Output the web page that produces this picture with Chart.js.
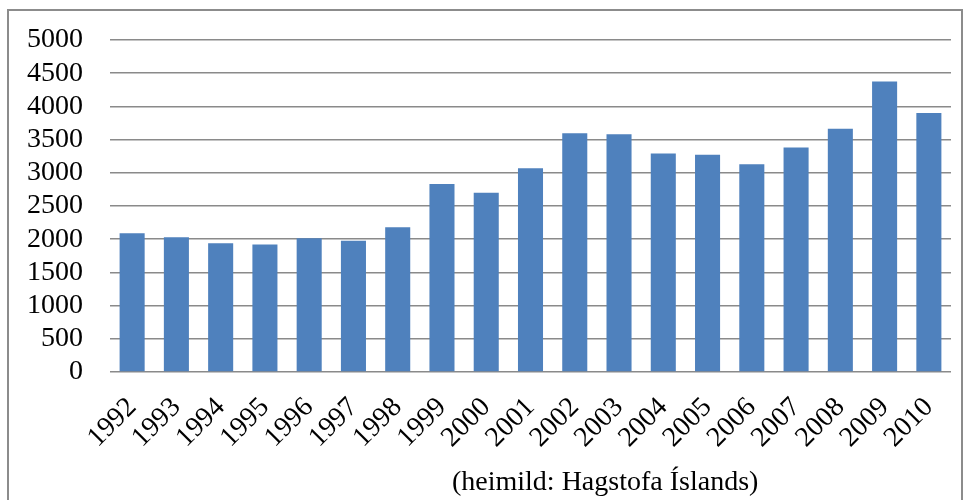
<!DOCTYPE html>
<html>
<head>
<meta charset="utf-8">
<script src="https://cdn.jsdelivr.net/npm/chart.js@4"></script>
<style>
  html, body { margin: 0; padding: 0; background: #fff; }
  #wrap { position: relative; width: 967px; height: 500px; overflow: hidden; }
  #frame { position: absolute; left: 7px; top: 9px; width: 956px; height: 500px; border: 2px solid #8c8c8c; box-sizing: border-box; }
  #c { position: absolute; left: 0; top: 0; }
  #caption { position: absolute; left: 452px; top: 465px; font-family: "Liberation Serif", serif; font-size: 28px; color: #000; white-space: nowrap; }
</style>
</head>
<body>
<div id="wrap">
  <div id="frame"></div>
  <canvas id="c" width="967" height="500"></canvas>
  <div id="caption">(heimild: Hagstofa Íslands)</div>
</div>
<script>
const categories = ["1992","1993","1994","1995","1996","1997","1998","1999","2000","2001","2002","2003","2004","2005","2006","2007","2008","2009","2010"];
const values = [2090, 2030, 1940, 1920, 2015, 1975, 2180, 2830, 2700, 3070, 3595, 3580, 3290, 3270, 3130, 3380, 3665, 4375, 3900];
const yTicks = [0, 500, 1000, 1500, 2000, 2500, 3000, 3500, 4000, 4500, 5000];

new Chart(document.getElementById('c'), {
  type: 'bar',
  data: {
    labels: categories,
    datasets: [{
      data: values,
      backgroundColor: '#4F81BD',
      borderWidth: 0,
      categoryPercentage: 1,
      barPercentage: 0.566
    }]
  },
  options: {
    responsive: false,
    animation: false,
    devicePixelRatio: 1,
    layout: { padding: { left: 0, right: 16, top: 40, bottom: 0 } },
    plugins: { legend: { display: false }, tooltip: { enabled: false } },
    scales: {
      x: {
        grid: { display: false, drawTicks: false },
        border: { display: false },
        ticks: {
          color: '#000',
          font: { family: 'Liberation Serif', size: 28 },
          maxRotation: 45, minRotation: 45,
          padding: 19,
          autoSkip: false
        },
        afterFit: (s) => { s.height = 128; s.paddingLeft = 0; s.paddingRight = 0; s.paddingTop = 0; s.paddingBottom = 0; }
      },
      y: {
        min: 0, max: 5000,
        afterBuildTicks: (s) => { s.ticks = yTicks.map(v => ({ value: v })); },
        grid: { color: '#8a8a8a', lineWidth: 1.5, drawTicks: false },
        border: { display: false },
        ticks: {
          color: '#000',
          font: { family: 'Liberation Serif', size: 28 },
          padding: 27,
          autoSkip: false,
          callback: (v) => String(v)
        },
        afterFit: (s) => { s.width = 110; s.paddingLeft = 0; s.paddingRight = 0; s.paddingTop = 0; s.paddingBottom = 0; }
      }
    }
  }
});
</script>
</body>
</html>
